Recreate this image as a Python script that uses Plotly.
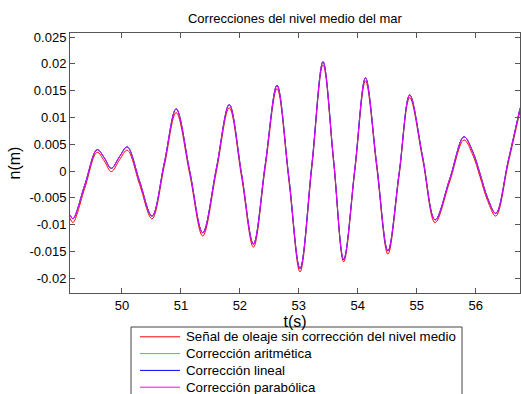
import plotly.graph_objects as go

# key points (time in s)
t = [49.12, 49.17, 49.37, 49.58, 49.70, 49.82, 49.96, 50.09, 50.30, 50.51, 50.72, 50.92,
     51.15, 51.37, 51.60, 51.82, 52.03, 52.23, 52.43, 52.63, 52.83, 53.02, 53.22, 53.41,
     53.59, 53.76, 53.95, 54.13, 54.32, 54.51, 54.70, 54.88, 55.10, 55.31, 55.56, 55.80,
     55.95, 56.07, 56.20, 56.34, 56.55, 56.75]
raw = [-0.0088, -0.0096, -0.0032, 0.0035, 0.0019, -0.0001, 0.0021, 0.0039, -0.0025, -0.0089,
       0.0010, 0.0109, -0.0006, -0.0121, -0.0002, 0.0118, -0.0012, -0.0142, 0.0006, 0.0154,
       -0.0017, -0.0188, 0.0005, 0.0198, 0.0015, -0.0169, 0.0000, 0.0168, 0.0007, -0.0155,
       -0.0009, 0.0137, 0.0021, -0.0096, -0.0019, 0.0058, 0.0030, -0.0010, -0.0055, -0.0084,
       0.0014, 0.0112]
arit = [-0.0082, -0.0089, -0.0026, 0.0040, 0.0025, 0.0005, 0.0027, 0.0045, -0.0019, -0.0084,
        0.0016, 0.0116, 0.0000, -0.0115, 0.0004, 0.0124, -0.0006, -0.0136, 0.0012, 0.0160,
        -0.0011, -0.0182, 0.0011, 0.0204, 0.0020, -0.0165, 0.0005, 0.0174, 0.0013, -0.0149,
        -0.0004, 0.0142, 0.0026, -0.0091, -0.0014, 0.0064, 0.0036, -0.0004, -0.0050, -0.0079,
        0.0019, 0.0117]
lineal = list(arit)
parab = list(arit)

yticks = [-0.02, -0.015, -0.01, -0.005, 0, 0.005, 0.01, 0.015, 0.02, 0.025]
yticktext = ["-0.02", "-0.015", "-0.01", "-0.005", "0", "0.005", "0.01", "0.015", "0.02", "0.025"]
xticks = [50, 51, 52, 53, 54, 55, 56]

names = ["Señal de oleaje sin corrección del nivel medio", "Corrección aritmética",
         "Corrección lineal", "Corrección parabólica"]
colors = ["#ff0000", "#00ff00", "#0000ff", "#ff00ff"]
series = [raw, arit, lineal, parab]

# figure geometry (pixels)
W, H = 521, 394
ML, MR, MT, MB = 70, 1, 33, 101
PW, PH = W - ML - MR, H - MT - MB


def px(xp):
    return (xp - ML) / PW


def py(yp):
    return (H - MB - yp) / PH


fig = go.Figure()
for n, c, s in zip(names, colors, series):
    fig.add_trace(go.Scatter(x=t, y=s, mode="lines", name=n, showlegend=False,
                             line=dict(color=c, width=1, shape="spline", smoothing=1.0)))

# legend box drawn in paper coordinates (it runs past the bottom edge, like the reference)
shapes = [dict(type="rect", xref="paper", yref="paper", x0=px(131), x1=px(462),
               y0=py(402), y1=py(327), line=dict(color="#444", width=1),
               fillcolor="white", layer="above")]
annotations = []
for i, (n, c) in enumerate(zip(names, colors)):
    yc = 336.8 + 16.8 * i
    shapes.append(dict(type="line", xref="paper", yref="paper", x0=px(140), x1=px(180),
                       y0=py(yc), y1=py(yc), line=dict(color=c, width=1), layer="above"))
    annotations.append(dict(text=n, xref="paper", yref="paper", x=px(184), y=py(yc),
                            xanchor="left", yanchor="middle", showarrow=False,
                            font=dict(size=13.3, color="black")))

font = dict(family="Liberation Sans, Arial, sans-serif", size=13, color="black")
fig.update_layout(
    width=W, height=H,
    margin=dict(l=ML, r=MR, t=MT, b=MB, autoexpand=False),
    paper_bgcolor="white", plot_bgcolor="white",
    font=font,
    title=dict(text="Correcciones del nivel medio del mar", x=0.566, xanchor="center",
               y=0.954, yanchor="middle", font=dict(size=13)),
    showlegend=False,
    shapes=shapes,
    annotations=annotations,
    xaxis=dict(range=[49.12, 56.75], tickvals=xticks, ticks="inside", ticklen=5,
               tickcolor="#555", showline=True, linecolor="#555", linewidth=1,
               mirror="ticks", showgrid=False, zeroline=False,
               title=dict(text="t(s)", standoff=2)),
    yaxis=dict(range=[-0.02274, 0.02575], tickvals=yticks, ticktext=yticktext,
               ticks="inside", ticklen=5, tickcolor="#555", showline=True,
               linecolor="#555", linewidth=1, mirror="ticks", showgrid=False,
               zeroline=False, title=dict(text="n(m)", standoff=4)),
)
fig.write_html("out.html")
